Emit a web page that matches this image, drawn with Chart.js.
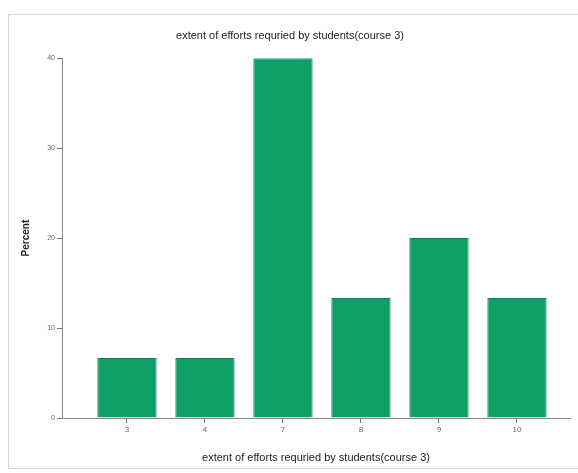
<!DOCTYPE html>
<html>
<head>
<meta charset="utf-8">
<script src="https://cdn.jsdelivr.net/npm/chart.js@4/dist/chart.umd.min.js"></script>
<style>
  html, body { margin: 0; padding: 0; background: #fff; }
  #wrap { width: 578px; height: 473px; }
</style>
</head>
<body>
<div id="wrap"><canvas id="chart" width="578" height="473"></canvas></div>
<script>
const categories = ['3', '4', '7', '8', '9', '10'];
const percentValues = [6.67, 6.67, 40.0, 13.33, 20.0, 13.33];
const yTicks = [0, 10, 20, 30, 40];
const chartTitle = 'extent of efforts requried by students(course 3)';

const points = percentValues.map((v, i) => ({ x: i + 1, y: v }));

// light frame round the whole chart
const framePlugin = {
    id: 'frame',
    beforeDraw(chart) {
        const ctx = chart.ctx;
        ctx.save();
        ctx.fillStyle = '#fff';
        ctx.fillRect(0, 0, chart.width, chart.height);
        ctx.strokeStyle = '#d4d4d4';
        ctx.lineWidth = 1;
        ctx.strokeRect(8.5, 14.5, chart.width, 454);
        ctx.restore();
    }
};

new Chart(document.getElementById('chart').getContext('2d'), {
    type: 'bar',
    data: {
        datasets: [{
            label: 'Percent',
            data: points,
            backgroundColor: '#0ea066',
            borderColor: '#0a8452',
            borderWidth: 1,
            categoryPercentage: 1,
            barPercentage: 0.76
        }]
    },
    options: {
        responsive: false,
        animation: false,
        layout: { padding: { left: 10, right: 8, top: 0, bottom: 4 } },
        plugins: {
            legend: { display: false },
            tooltip: { enabled: false },
            title: {
                display: true,
                text: chartTitle,
                color: '#222',
                font: { family: 'Liberation Sans', size: 11, weight: 'normal' },
                padding: { top: 29, bottom: 16 }
            }
        },
        scales: {
            x: {
                type: 'linear',
                offset: false,
                min: 0.167,
                max: 6.68,
                afterBuildTicks: (scale) => {
                    scale.ticks = categories.map((c, i) => ({ value: i + 1 }));
                },
                afterFit: (scale) => { scale.height = 51; },
                ticks: {
                    autoSkip: false,
                    maxRotation: 0,
                    color: '#666',
                    font: { family: 'Liberation Sans', size: 8 },
                    padding: 2,
                    callback: (value) => categories[Math.round(value) - 1]
                },
                grid: { offset: false, drawOnChartArea: false, drawTicks: true, tickLength: 5, color: '#777' },
                border: { display: true, color: '#888' },
                title: {
                    display: true,
                    text: chartTitle,
                    color: '#222',
                    font: { family: 'Liberation Sans', size: 11 },
                    padding: { top: 8 }
                }
            },
            y: {
                min: 0,
                max: 40,
                afterBuildTicks: (scale) => {
                    scale.ticks = yTicks.map(v => ({ value: v }));
                },
                afterFit: (scale) => { scale.width = 52; },
                ticks: {
                    color: '#666',
                    font: { family: 'Liberation Sans', size: 7 },
                    padding: 2
                },
                grid: { drawOnChartArea: false, drawTicks: true, tickLength: 5, color: '#777' },
                border: { display: true, color: '#888' },
                title: {
                    display: true,
                    text: 'Percent',
                    color: '#222',
                    font: { family: 'Liberation Sans', size: 10, weight: 'bold' },
                    padding: { top: 10 }
                }
            }
        }
    },
    plugins: [framePlugin]
});
</script>
</body>
</html>
